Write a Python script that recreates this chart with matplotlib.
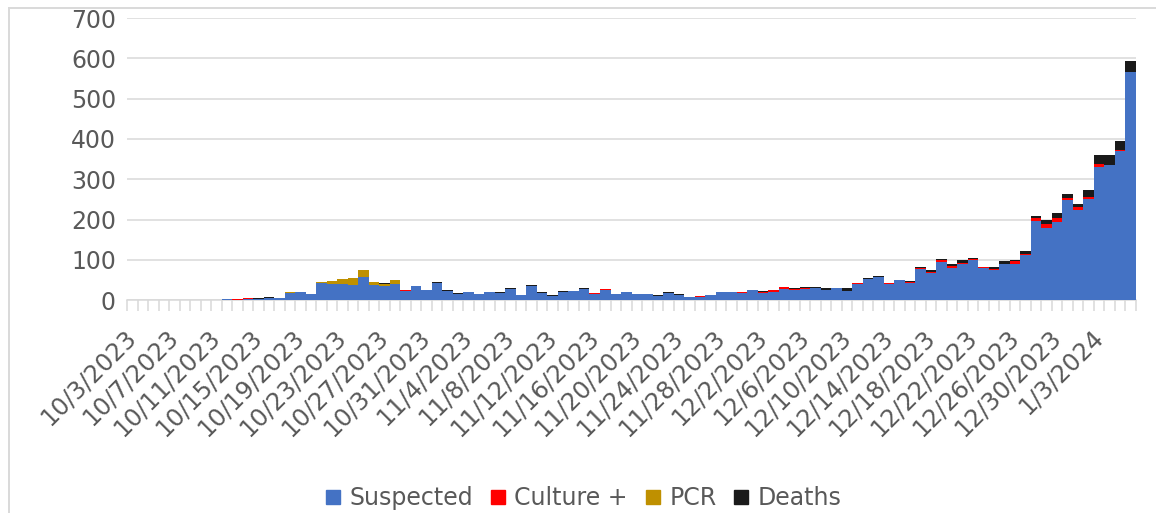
import matplotlib
matplotlib.use("Agg")
import matplotlib.pyplot as plt
from matplotlib.lines import Line2D
import numpy as np
import pandas as pd

plt.rcParams['font.family'] = ['DejaVu Sans']

dates = pd.date_range('2023-10-03', periods=96, freq='D')
categories = [f"{d.month}/{d.day}/{d.year}" for d in dates]

suspected = [1, 0, 1, 0, 0, 1, 1, 0, 1, 3,
             1, 3, 3, 6, 6, 18, 21, 16, 43, 40,
             40, 38, 58, 38, 36, 40, 23, 36, 26, 43,
             23, 16, 21, 16, 21, 18, 28, 13, 36, 18,
             11, 21, 23, 28, 16, 26, 16, 21, 16, 16,
             11, 18, 13, 7, 8, 13, 21, 21, 18, 26,
             18, 21, 28, 26, 28, 31, 26, 31, 23, 40,
             53, 58, 40, 50, 43, 77, 68, 96, 80, 91,
             100, 80, 75, 90, 90, 112, 197, 179, 195, 249,
             224, 251, 331, 336, 370, 566]
culture = [0, 0, 0, 0, 0, 0, 0, 0, 0, 0,
           2, 2, 0, 0, 0, 0, 0, 0, 0, 0,
           0, 0, 0, 0, 0, 0, 2, 0, 0, 0,
           0, 0, 0, 0, 0, 0, 0, 0, 0, 0,
           0, 0, 0, 0, 2, 2, 0, 0, 0, 0,
           0, 0, 0, 0, 3, 0, 0, 0, 2, 0,
           2, 5, 5, 2, 3, 0, 0, 0, 0, 3,
           0, 0, 2, 0, 3, 3, 3, 5, 5, 2,
           2, 2, 2, 0, 8, 2, 7, 10, 9, 5,
           7, 5, 7, 0, 3, 0]
pcr = [0, 0, 0, 0, 0, 0, 0, 0, 0, 0,
       0, 0, 0, 0, 0, 2, 0, 0, 2, 7,
       12, 17, 17, 7, 5, 10, 0, 0, 0, 0,
       0, 0, 0, 0, 0, 0, 0, 0, 0, 0,
       0, 0, 0, 0, 0, 0, 0, 0, 0, 0,
       0, 0, 0, 0, 0, 0, 0, 0, 0, 0,
       0, 0, 0, 0, 0, 0, 0, 0, 0, 0,
       0, 0, 0, 0, 0, 0, 0, 0, 0, 0,
       0, 0, 0, 0, 0, 0, 0, 0, 0, 0,
       0, 0, 0, 0, 0, 0]
deaths = [0, 0, 0, 0, 0, 0, 0, 0, 0, 0,
          0, 0, 2, 2, 0, 0, 0, 0, 0, 0,
          0, 0, 0, 0, 2, 0, 0, 0, 0, 2,
          2, 2, 0, 0, 0, 2, 2, 0, 2, 2,
          2, 2, 0, 2, 0, 0, 0, 0, 0, 0,
          2, 2, 3, 0, 0, 0, 0, 0, 0, 0,
          2, 0, 0, 3, 2, 2, 5, 0, 7, 0,
          2, 2, 2, 0, 2, 3, 4, 2, 5, 8,
          3, 0, 5, 8, 2, 8, 5, 10, 12, 10,
          7, 17, 22, 25, 21, 27]

series_names = ['Suspected', 'Culture +', 'PCR', 'Deaths']
colors = ['#4472C4', '#FF0000', '#BF9000', '#1A1A1A']
text_color = '#595959'
grid_color = '#D9D9D9'

fig = plt.figure(figsize=(11.56, 5.13), dpi=100)
ax = fig.add_axes([0.1099, 0.4146, 0.8728, 0.5503])

x = np.arange(len(categories))
bottom = np.zeros(len(categories))
for vals, col, name in zip([suspected, culture, pcr, deaths], colors, series_names):
    v = np.array(vals, dtype=float)
    ax.bar(x, v, width=1.0, bottom=bottom, color=col, label=name, linewidth=0, zorder=3)
    bottom += v

ax.set_xlim(-0.5, len(categories) - 0.5)
ax.set_ylim(0, 700)
ax.set_yticks(np.arange(0, 701, 100))
ax.yaxis.grid(True, color=grid_color, linewidth=1.1, zorder=0)
ax.set_axisbelow(True)
for s in ['top', 'right', 'left']:
    ax.spines[s].set_visible(False)
ax.spines['bottom'].set_color(grid_color)
ax.spines['bottom'].set_linewidth(1.1)
ax.spines['bottom'].set_zorder(2)

ax.tick_params(axis='y', length=0, labelsize=17, labelcolor=text_color, pad=8)
ax.set_xticks(x[::4])
ax.set_xticklabels(categories[::4], rotation=45, ha='right', va='center',
                   rotation_mode='anchor')
ax.tick_params(axis='x', which='major', length=0, labelsize=17.5, labelcolor=text_color, pad=24)
ax.set_xticks(np.arange(-0.5, len(categories), 1.0), minor=True)
ax.tick_params(axis='x', which='minor', length=8, width=1.1, color=grid_color)

handles = [Line2D([0], [0], marker='s', linestyle='none', markersize=10,
                  markerfacecolor=c, markeredgecolor=c) for c in colors]
fig.legend(handles, series_names, loc='center', bbox_to_anchor=(0.5045, 0.029),
           ncol=4, frameon=False, fontsize=17, labelcolor=text_color,
           handlelength=0.7, handletextpad=0.35, columnspacing=0.7)

# chart-area frame (left and top edges visible)
fig.add_artist(Line2D([9/1156, 9/1156], [0, 1 - 8/513], transform=fig.transFigure,
                      color=grid_color, linewidth=1.4))
fig.add_artist(Line2D([9/1156, 1], [1 - 8/513, 1 - 8/513], transform=fig.transFigure,
                      color=grid_color, linewidth=1.4))

fig.savefig('out.png', dpi=100)
